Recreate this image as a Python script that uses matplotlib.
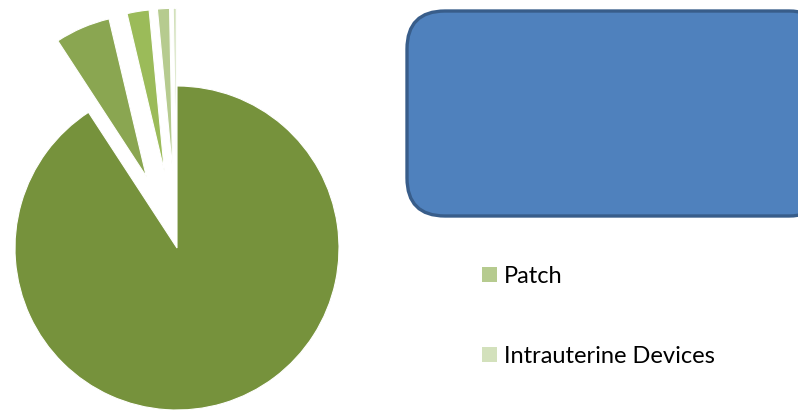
#!/usr/bin/env python3
"""Contraceptive method share pie, with the legend partly hidden behind a shape."""

import matplotlib
matplotlib.use("Agg")
import matplotlib.pyplot as plt
from matplotlib.patches import FancyBboxPatch

# slices in drawing order (clockwise from 12 o'clock)
methods = ["Pill", "Condom", "Injectable", "Patch", "Intrauterine Devices"]
shares = [90.8, 5.5, 2.2, 1.2, 0.3]
colors = ["#76923c", "#8aa651", "#9bbb59", "#b6cb8f", "#d3e1bc"]
pulled = [False, True, True, True, True]

# only these legend entries are visible in the original
shown = ["Patch", "Intrauterine Devices"]

W, H = 798, 411
R = 162
fig = plt.figure(figsize=(W / 100, H / 100), dpi=100)
ax = fig.add_axes([0, 0, 1, 1])

# explode is in data units here (pixels), about half the radius
wedges, _ = ax.pie(shares, colors=colors, explode=[0.48 * R if p else 0 for p in pulled],
                   startangle=90, counterclock=False, center=(177, H - 248), radius=R,
                   wedgeprops=dict(edgecolor="white", linewidth=0.8))
ax.set_xlim(0, W)
ax.set_ylim(0, H)
ax.set_aspect("auto")
ax.axis("off")

handles = [wedges[methods.index(m)] for m in shown]
leg = ax.legend(handles, shown, loc="upper left", bbox_to_anchor=(482 / W, 1 - 266 / H),
                frameon=False, handlelength=0.62, handleheight=0.62,
                handletextpad=0.3, labelspacing=2.5, borderpad=0, borderaxespad=0,
                prop={"family": "Lato", "size": 17})
for h in leg.legend_handles:
    h.set_edgecolor("none")

# rounded blue shape sitting over the upper legend entries
box = FancyBboxPatch((407, H - 216), 420, 205, boxstyle="round,pad=0,rounding_size=38",
                     facecolor="#4f81bd", edgecolor="#385d8a", linewidth=2.4, zorder=5)
ax.add_patch(box)

fig.savefig("out.png", dpi=100)
